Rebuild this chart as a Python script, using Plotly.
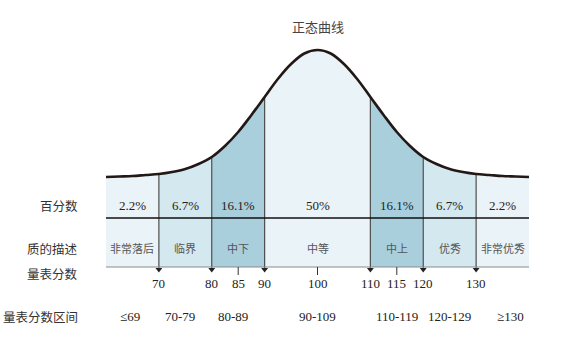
import plotly.graph_objects as go

# ---------------- data ----------------
title_text = "正态曲线"
boundaries = [60, 70, 80, 90, 110, 120, 130, 140]
percents = ["2.2%", "6.7%", "16.1%", "50%", "16.1%", "6.7%", "2.2%"]
descriptions = ["非常落后", "临界", "中下", "中等", "中上", "优秀", "非常优秀"]
score_ranges = ["≤69", "70-79", "80-89", "90-109", "110-119", "120-129", "≥130"]
tick_values = [70, 80, 85, 90, 100, 110, 115, 120, 130]
arrow_ticks = [70, 80, 90, 110, 120, 130]
row_labels = ["百分数", "质的描述", "量表分数", "量表分数区间"]

# normal curve heights (arbitrary units above baseline)
curve_x = [60, 62.5, 65, 67.5, 70, 72.5, 75, 77.5, 80, 82.5, 85, 87.5, 90, 92.5, 95, 97.5,
           100, 102.5, 105, 107.5, 110, 112.5, 115, 117.5, 120, 122.5, 125, 127.5, 130,
           132.5, 135, 137.5, 140]
curve_y = [1, 1.5, 2, 3, 4, 6, 9, 14, 21, 32, 46, 63, 81, 99, 114, 124.5,
           128, 124.5, 114, 99, 81, 63, 46, 32, 21, 14, 9, 6, 4,
           3, 2, 1.5, 1]

# ---------------- style / layout constants ----------------
W, H = 564, 353
PX_PER_UNIT = 5.2875
X_LEFT = 60 - 106 / PX_PER_UNIT
X_RIGHT = 140 + (W - 529) / PX_PER_UNIT
Y_TOP, Y_BOTTOM = 178, -175          # y units == pixels above baseline
TABLE_MID, TABLE_BOTTOM = -40, -89
Y_PCT, Y_DESC, Y_TICKLBL, Y_RANGE, Y_TITLE = -27, -70, -105, -138, 152
LABEL_X = X_LEFT + 80 / PX_PER_UNIT
RANGE_XSHIFT = [-2, -5, -5, 0, 0, 0, 8]

LIGHT, MID, DARK = "#EAF3F7", "#D4E8EF", "#A9CFDD"
band_colors = [LIGHT, MID, DARK, LIGHT, DARK, MID, LIGHT]
CURVE_COLOR = "#231815"
DIV_COLOR = "#4d4d4d"
FONT = "Liberation Serif, Noto Sans CJK SC, serif"

def height_at(x):
    return curve_y[curve_x.index(x)]

fig = go.Figure()

# band fills (under curve + table area)
for i in range(len(band_colors)):
    a, b = boundaries[i], boundaries[i + 1]
    xs = [x for x in curve_x if a <= x <= b]
    ys = [curve_y[curve_x.index(x)] for x in xs]
    px = xs + [b, a, a]
    py = ys + [TABLE_BOTTOM, TABLE_BOTTOM, ys[0]]
    fig.add_trace(go.Scatter(x=px, y=py, fill="toself", fillcolor=band_colors[i],
                             mode="lines", line=dict(width=0), hoverinfo="skip",
                             showlegend=False))

# divider lines
for b in boundaries[1:-1]:
    fig.add_trace(go.Scatter(x=[b, b], y=[height_at(b), TABLE_BOTTOM - 1], mode="lines",
                             line=dict(color=DIV_COLOR, width=1.2), hoverinfo="skip",
                             showlegend=False))

# table middle & bottom lines
fig.add_trace(go.Scatter(x=[boundaries[0], boundaries[-1]], y=[TABLE_MID, TABLE_MID],
                         mode="lines", line=dict(color="#111111", width=1.5),
                         hoverinfo="skip", showlegend=False))
fig.add_trace(go.Scatter(x=[boundaries[0], boundaries[-1]], y=[TABLE_BOTTOM, TABLE_BOTTOM],
                         mode="lines", line=dict(color="#8a8a8a", width=1),
                         hoverinfo="skip", showlegend=False))

# curve
fig.add_trace(go.Scatter(x=curve_x, y=curve_y, mode="lines",
                         line=dict(color=CURVE_COLOR, width=2.6, shape="spline", smoothing=1.0),
                         hoverinfo="skip", showlegend=False))

# arrows at boundary ticks
fig.add_trace(go.Scatter(x=arrow_ticks, y=[TABLE_BOTTOM - 2.5] * len(arrow_ticks),
                         mode="markers",
                         marker=dict(symbol="triangle-down", size=6, color="#222222"),
                         hoverinfo="skip", showlegend=False))
# plain ticks
for t in tick_values:
    if t not in arrow_ticks:
        fig.add_trace(go.Scatter(x=[t, t], y=[TABLE_BOTTOM, TABLE_BOTTOM - 8], mode="lines",
                                 line=dict(color="#333333", width=1), hoverinfo="skip",
                                 showlegend=False))

ann = []
centers = [(boundaries[i] + boundaries[i + 1]) / 2 for i in range(len(percents))]
for c, p, d in zip(centers, percents, descriptions):
    ann.append(dict(x=c, y=Y_PCT, text=p, showarrow=False,
                    font=dict(family=FONT, size=13, color="#222222")))
    ann.append(dict(x=c, y=Y_DESC, text=d, showarrow=False,
                    font=dict(family="Noto Sans CJK SC", size=11, color="#555555")))
for c, r, s in zip(centers, score_ranges, RANGE_XSHIFT):
    ann.append(dict(x=c, y=Y_RANGE, text=r, showarrow=False, xshift=s,
                    font=dict(family=FONT, size=13, color="#222222")))
for t in tick_values:
    ann.append(dict(x=t, y=Y_TICKLBL, text=str(t), showarrow=False,
                    font=dict(family=FONT, size=13, color="#222222")))
for lbl, yy in zip(row_labels, [Y_PCT, Y_DESC, -95, Y_RANGE]):
    ann.append(dict(x=LABEL_X, y=yy, text=lbl, showarrow=False, xanchor="right",
                    font=dict(family="Noto Sans CJK SC", size=12.5, color="#333333")))
ann.append(dict(x=100, y=Y_TITLE, text=title_text, showarrow=False,
                font=dict(family="Noto Sans CJK SC", size=13, color="#444444")))

fig.update_layout(
    width=W, height=H,
    margin=dict(l=0, r=0, t=0, b=0),
    paper_bgcolor="white", plot_bgcolor="white",
    xaxis=dict(range=[X_LEFT, X_RIGHT], visible=False, fixedrange=True),
    yaxis=dict(range=[Y_BOTTOM, Y_TOP], visible=False, fixedrange=True),
    annotations=ann,
    showlegend=False,
)

fig.write_html("out.html")
